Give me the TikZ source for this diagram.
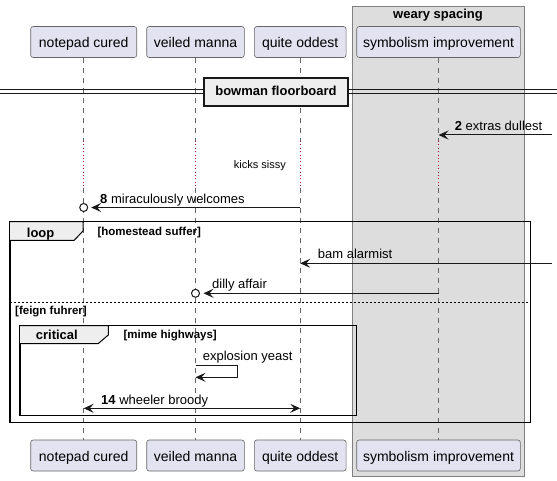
\documentclass[tikz,border=0pt]{standalone}
\usepackage{fontspec}
\setmainfont{Liberation Sans}
\usetikzlibrary{arrows.meta}
\definecolor{partfill}{HTML}{E2E2F0}
\definecolor{boxfill}{HTML}{DDDDDD}
\definecolor{tabfill}{HTML}{EEEEEE}
\definecolor{delayred}{HTML}{A80036}
\definecolor{ink}{HTML}{181818}
\tikzset{
  part/.style={draw=black!60, line width=0.6pt, fill=partfill, rounded corners=2.5pt,
    inner sep=0pt, minimum height=31pt, text height=13pt, text depth=1.6pt,
    font=\fontsize{14}{16}\selectfont},
  life/.style={draw=black!60, line width=0.6pt, dash pattern=on 5pt off 5pt},
  delayline/.style={draw=delayred, line width=0.7pt, dash pattern=on 0.8pt off 2.6pt},
  msg/.style={draw=ink, line width=1pt},
  headtip/.style={-{Stealth[length=10pt,width=9pt,inset=4pt]}},
  bothtip/.style={{Stealth[length=10pt,width=9pt,inset=4pt]}-{Stealth[length=10pt,width=9pt,inset=4pt]}},
  lbl/.style={anchor=base west, inner sep=0pt, font=\fontsize{13}{15}\selectfont},
  smalllbl/.style={anchor=base west, inner sep=0pt, font=\fontsize{11}{13}\selectfont},
  guard/.style={anchor=base west, inner sep=0pt, font=\fontsize{11.5}{13}\selectfont\bfseries},
  frametitle/.style={anchor=base west, inner sep=0pt, font=\fontsize{13}{15}\selectfont\bfseries},
  framebox/.style={draw=black, line width=1.5pt},
  tabshape/.style={draw=black, line width=1pt, fill=tabfill},
  endcirc/.style={circle, draw=ink, line width=1pt, fill=white, minimum size=8pt, inner sep=0pt},
}
\begin{document}
\begin{tikzpicture}[x=1pt,y=-1pt]
\useasboundingbox (0,0) rectangle (557,481);

% group box
\filldraw[fill=boxfill, draw=black!50, line width=0.8pt] (352.7,6) rectangle (524.7,476);
\node[anchor=base, inner sep=0pt, font=\fontsize{13}{15}\selectfont\bfseries] (wtitle) at (438,18.5) {weary spacing};

% participants
\node[part, minimum width=106pt] (pA) at (83.7,42) {notepad cured};
\node[part, minimum width=97.6pt] (pB) at (195.5,42) {veiled manna};
\node[part, minimum width=91.7pt] (pC) at (300.2,42) {quite oddest};
\node[part, minimum width=163.6pt] (pD) at (438.5,42) {symbolism improvement};
\node[part, minimum width=106pt] (pAb) at (83.7,455.5) {notepad cured};
\node[part, minimum width=97.6pt] (pBb) at (195.5,455.5) {veiled manna};
\node[part, minimum width=91.7pt] (pCb) at (300.2,455.5) {quite oddest};
\node[part, minimum width=163.6pt] (pDb) at (438.5,455.5) {symbolism improvement};

% delay limits
\coordinate (d1) at (0,141);
\coordinate (d2) at (0,188);

% lifelines
\foreach \p in {pA,pB,pC,pD}{
  \draw[life] (\p.south) -- (\p.south |- d1);
  \draw[delayline] (\p.south |- d1) -- (\p.south |- d2);
  \draw[life] (\p.south |- d2) -- (\p b.north);
}

% divider
\coordinate (dl) at (0,90);
\coordinate (dr) at (557,90);
\coordinate (dl2) at (0,93.3);
\coordinate (dr2) at (557,93.3);
\draw[ink, line width=1pt] (dl) -- (dr);
\draw[ink, line width=1pt] (dl2) -- (dr2);
\node[draw=ink, line width=2pt, fill=tabfill, minimum width=143.4pt, minimum height=28.3pt,
  inner sep=0pt, text height=9.4pt, text depth=3pt, font=\fontsize{13}{15}\selectfont\bfseries]
  (divbox) at (276,91.85) {bowman floorboard};

% message 2
\coordinate (m2) at (552,135);
\draw[msg, headtip] (m2) -- (pD.south |- m2);
\node[lbl] (l2) at (454.7,130.7) {\textbf{2} extras dullest};

% delay text
\node[smalllbl] (kick) at (233.7,168.3) {kicks sissy};

% message 8
\coordinate (m8) at (0,207.5);
\node[endcirc] (c8) at (pA.south |- m8) {};
\draw[msg, headtip] (pC.south |- m8) -- ([xshift=3pt]c8.east);
\node[lbl] (l8) at (100,203.3) {\textbf{8} miraculously welcomes};

% loop frame
\draw[framebox] (10,221.7) rectangle (530.3,422.7);
\draw[tabshape] (10,221.7) -- (83,221.7) -- (83,231) -- (74,240.5) -- (10,240.5);
\node[frametitle] (loopt) at (26.7,237) {loop};
\node[guard] (loopg) at (97.3,236) {[homestead suffer]};

% bam alarmist
\coordinate (mb) at (552,263.3);
\draw[msg, headtip] (mb) -- (pC.south |- mb);
\node[lbl] (lb) at (317.7,258.3) {bam alarmist};

% dilly affair
\coordinate (md) at (0,293.3);
\node[endcirc] (cd) at (pB.south |- md) {};
\draw[msg, headtip] (pD.south |- md) -- ([xshift=3.5pt]cd.east);
\node[lbl] (ld) at (212,288.3) {dilly affair};

% else separator
\coordinate (sl) at (10,302.3);
\coordinate (sr) at (530.3,302.3);
\draw[black, line width=0.8pt, dash pattern=on 2pt off 2pt] (sl) -- (sr);
\node[guard] (elseg) at (15,314) {[feign fuhrer]};

% critical frame
\draw[framebox] (20,325.5) rectangle (356.7,415.7);
\draw[tabshape] (20,325.5) -- (108.3,325.5) -- (108.3,335) -- (98.3,343.5) -- (20,343.5);
\node[frametitle] (critt) at (35.7,339) {critical};
\node[guard] (critg) at (123.3,338) {[mime highways]};

% explosion yeast (self message)
\coordinate (s1) at (0,365.7);
\coordinate (s2) at (0,377.3);
\draw[msg, headtip] (pB.south |- s1) -- (237.7,365.7) -- (237.7,377.3) -- (pB.south |- s2);
\node[lbl] (le) at (202.7,360.7) {explosion yeast};

% wheeler broody
\coordinate (m14) at (0,408.3);
\draw[msg, bothtip] (pA.south |- m14) -- (pC.south |- m14);
\node[lbl] (l14) at (101,404.3) {\textbf{14} wheeler broody};

\end{tikzpicture}
\end{document}
